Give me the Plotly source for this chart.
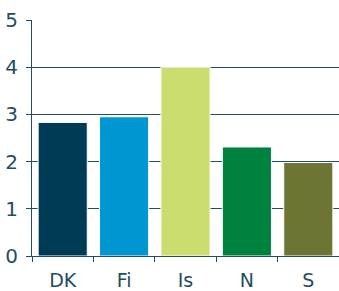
import plotly.graph_objects as go

categories = ["DK", "Fi", "Is", "N", "S"]
values = [2.83, 2.95, 4.0, 2.31, 1.98]
colors = ["#003b55", "#0096d1", "#cbdd6e", "#00823f", "#6e7433"]
y_ticks = [0, 1, 2, 3, 4, 5]

text_col = "#1f4e5f"

fig = go.Figure(go.Bar(
    x=categories, y=values,
    marker=dict(color=colors, line=dict(color="white", width=1)),
))
fig.update_layout(
    width=339, height=291,
    margin=dict(l=32, r=0, t=20, b=35),
    paper_bgcolor="white", plot_bgcolor="white",
    bargap=0.2,
    showlegend=False,
    font=dict(family="DejaVu Sans", color=text_col, size=20),
)
fig.update_yaxes(
    range=[0, 5], tickvals=y_ticks, showgrid=True, gridcolor=text_col, gridwidth=1,
    showline=True, linecolor=text_col, linewidth=1,
    ticks="outside", ticklen=5, tickcolor=text_col, zeroline=False,
    tickfont=dict(size=20), automargin=False, ticklabelstandoff=4,
)
fig.update_xaxes(
    showline=True, linecolor=text_col, linewidth=1,
    ticks="outside", ticklen=5, tickcolor=text_col, tickson="boundaries",
    tickfont=dict(size=19), automargin=False, ticklabelstandoff=7,
)
fig.write_html("out.html", config={"displayModeBar": False},
               post_script="document.body.style.margin='0';")
